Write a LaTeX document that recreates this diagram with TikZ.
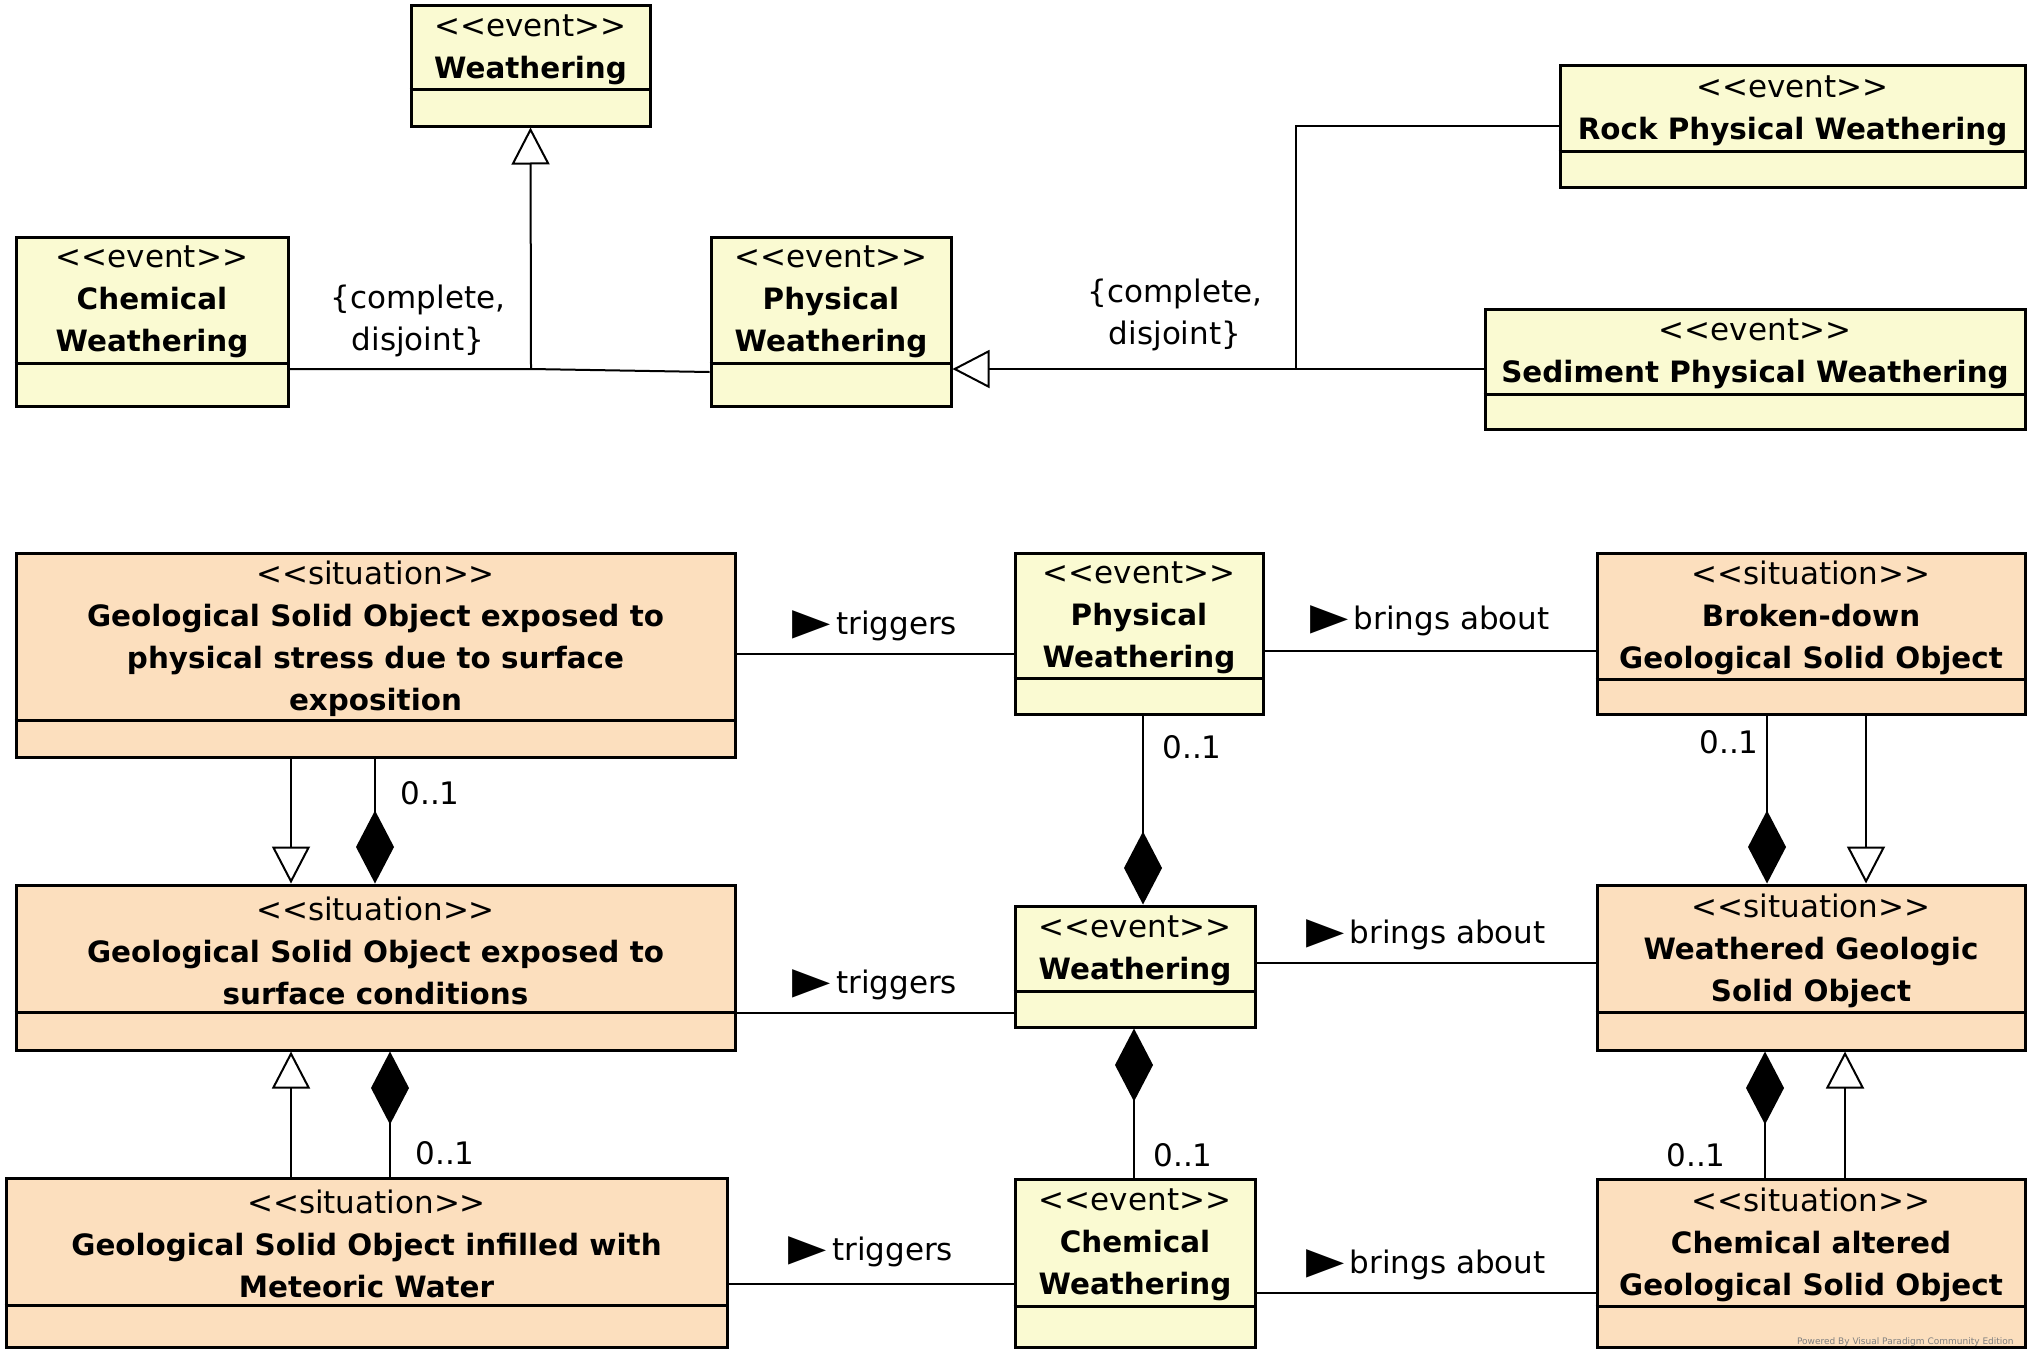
\documentclass[tikz,border=0pt]{standalone}
\usepackage{fontspec}
\setmainfont{DejaVu Sans}
\usetikzlibrary{arrows.meta,fit}
\definecolor{evfill}{RGB}{250,250,210}
\definecolor{sitfill}{RGB}{252,223,190}
\newcommand{\guil}[1]{{\mdseries\fontsize{15.5}{21}\selectfont<\kern0pt<#1>\kern0pt>}}
\newcommand{\bsz}{\bfseries\fontsize{14.7}{21}\selectfont}
\newcommand{\dirtri}{\scalebox{1.6}[1.2]{▶}\,}
\begin{document}
\begin{tikzpicture}[x=0.5pt,y=-0.5pt,line join=miter,font=\fontsize{15.5}{21}\selectfont,
	cls/.style={draw,line width=1.5pt,inner sep=0pt},
	ev/.style={cls,fill=evfill},
	sit/.style={cls,fill=sitfill},
	assoc/.style={line width=1pt},
	gen/.style={assoc,-{Triangle[open,length=18.5pt,width=19pt]}},
	comp/.style={assoc,-{Diamond[length=36.5pt,width=19pt]}},
	lbl/.style={inner sep=0pt}]
	\useasboundingbox (0,0) rectangle (2037,1359);
	\foreach \n/\s/\st/\xa/\ya/\xb/\yb/\ys/\t in {
		wth/ev/event/411/6/650/126/90/{Weathering},
		chw/ev/event/16/237/288/406/363/{Chemical\\Weathering},
		phw/ev/event/711/237/951/406/363/{Physical\\Weathering},
		rpw/ev/event/1560/66/2025/187/151/{Rock Physical Weathering},
		spw/ev/event/1485/309/2025/429/394/{Sediment Physical Weathering},
		gso/sit/situation/16/553/735/757/720/{Geological Solid Object exposed to\\physical stress due to surface\\exposition},
		phe/ev/event/1015/553/1263/714/678/{Physical\\Weathering},
		bgs/sit/situation/1597/553/2025/714/679/{Broken-down\\Geological Solid Object},
		gsc/sit/situation/16/885/735/1050/1012/{Geological Solid Object exposed to\\surface conditions},
		wea/ev/event/1015/906/1255/1027/991/{Weathering},
		wgs/sit/situation/1597/885/2025/1050/1012/{Weathered Geologic\\Solid Object},
		gsm/sit/situation/6/1178/727/1347/1305/{Geological Solid Object infilled with\\Meteoric Water},
		chx/ev/event/1015/1179/1255/1347/1306/{Chemical\\Weathering},
		cag/sit/situation/1597/1179/2025/1347/1306/{Chemical altered\\Geological Solid Object}}{
		\node[\s,fit={(\xa,\ya) (\xb,\yb)}] (\n) {};
		\draw[line width=1.5pt] (\n.west |- 0,\ys) -- (\n.east |- 0,\ys);
		\node[align=center,inner sep=0pt,font=\bsz] (\n-t) at ({(\xa+\xb)/2},{(\ya+\ys)/2+2}) {\guil{\st}\\\t};
	}
	% top: generalization sets
	\path (531,369) coordinate (j1) (1296,369) coordinate (j2);
	\draw[assoc] (chw.east |- j1) -- (j1) -- (phw.west |- 0,372);
	\draw[gen] (j1) -- (wth.south);
	\draw[gen] (spw.west |- j2) -- (phw.east |- j2);
	\draw[assoc] (rpw.west |- 0,126) -| (j2);
	\node[align=center,lbl] (cd1) at (418,321) {\{complete,\\disjoint\}};
	\node[align=center,lbl] (cd2) at (1175,315) {\{complete,\\disjoint\}};
	% bottom: associations
	\draw[assoc] (gso.east |- 0,654) -- node[lbl,above=6pt] (tr1) {\dirtri triggers} (phe.west |- 0,654);
	\draw[assoc] (gsc.east |- 0,1013) -- node[lbl,above=6pt] (tr2) {\dirtri triggers} (wea.west |- 0,1013);
	\draw[assoc] (gsm.east |- 0,1284) -- node[lbl,above=8pt] (tr3) {\dirtri triggers} (chx.west |- 0,1284);
	\draw[assoc] (phe.east |- 0,651) -- node[lbl,above=7pt] (ba1) {\dirtri brings about} (bgs.west |- 0,651);
	\draw[assoc] (wea.east |- 0,963) -- node[lbl,above=6pt] (ba2) {\dirtri brings about} (wgs.west |- 0,963);
	\draw[assoc] (chx.east |- 0,1293) -- node[lbl,above=6pt] (ba3) {\dirtri brings about} (cag.west |- 0,1293);
	% bottom: generalizations and compositions
	\draw[gen] (gso.south -| 291,0) -- (gsc.north -| 291,0);
	\draw[comp] (gso.south -| 375,0) -- (gsc.north -| 375,0);
	\draw[gen] (gsm.north -| 291,0) -- (gsc.south -| 291,0);
	\draw[comp] (gsm.north -| 390,0) -- (gsc.south -| 390,0);
	\draw[comp] (phe.south -| 1143,0) -- (wea.north -| 1143,0);
	\draw[comp] (chx.north -| 1134,0) -- (wea.south -| 1134,0);
	\draw[comp] (bgs.south -| 1767,0) -- (wgs.north -| 1767,0);
	\draw[gen] (bgs.south -| 1866,0) -- (wgs.north -| 1866,0);
	\draw[comp] (cag.north -| 1765,0) -- (wgs.south -| 1765,0);
	\draw[gen] (cag.north -| 1845,0) -- (wgs.south -| 1845,0);
	\foreach \m/\x/\y in {m1/430/793,m2/445/1153,m3/1192/747,m4/1183/1155,m5/1729/742,m6/1696/1155}
		\node[lbl] (\m) at (\x,\y) {0..1};
	\node[anchor=east,inner sep=0pt,text=gray,font=\fontsize{4.5}{5}\selectfont] (wm) at (2014,1342) {Powered By Visual Paradigm Community Edition};
\end{tikzpicture}
\end{document}
